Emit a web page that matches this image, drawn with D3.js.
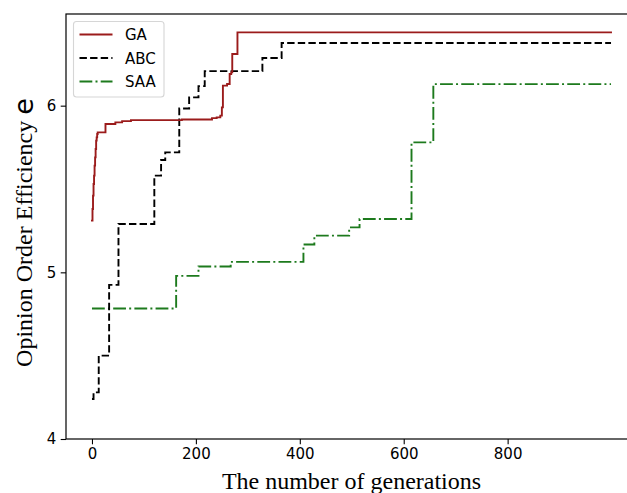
<!DOCTYPE html>
<html>
<head>
<meta charset="utf-8">
<script src="https://cdn.jsdelivr.net/npm/d3@7"></script>
<style>
  html, body { margin: 0; padding: 0; background: #fff; }
  svg { display: block; }
</style>
</head>
<body>
<svg id="chart" width="627" height="493"></svg>
<script>
// Best-so-far opinion order efficiency per generation (change points; held until the next one)
const lastGeneration = 999;

const gaGenerations = [0, 1, 2, 3, 4, 5, 6, 7, 8, 9, 10, 11, 26, 45, 58, 75, 173, 231, 240, 247, 250, 252, 260, 265, 268, 270, 280];
const gaValues      = [5.31, 5.38, 5.46, 5.53, 5.58, 5.64, 5.69, 5.74, 5.79, 5.81, 5.83, 5.84, 5.89, 5.90, 5.907, 5.913, 5.917, 5.925, 5.93, 5.94, 5.99, 6.12, 6.13, 6.19, 6.20, 6.31, 6.44];

const abcGenerations = [0, 3, 13, 33, 51, 120, 133, 141, 168, 187, 205, 217, 328, 365];
const abcValues      = [4.24, 4.28, 4.50, 4.925, 5.29, 5.58, 5.674, 5.72, 5.983, 6.05, 6.117, 6.207, 6.286, 6.376];

const saaGenerations = [0, 162, 205, 267, 407, 428, 495, 515, 615, 657];
const saaValues      = [4.783, 4.979, 5.035, 5.063, 5.167, 5.22, 5.27, 5.32, 5.78, 6.129];

const seriesNames = ["GA", "ABC", "SAA"];
const xTickValues = [0, 200, 400, 600, 800];
const yTickValues = [4, 5, 6];

const xLabel = "The number of generations";
const yLabel = "Opinion Order Efficiency ";
const yLabelSymbol = "e";

// ---- layout ----
const svg = d3.select("#chart");
const plot = { left: 66, top: 14, right: 637, bottom: 439 };

const x = d3.scaleLinear().domain([-50, 1049]).range([plot.left, plot.right]);
const y = d3.scaleLinear().domain([4, 6.55]).range([plot.bottom, plot.top]);

const styles = {
  GA:  { color: "#9b1b1b", dash: null },
  ABC: { color: "#000000", dash: "7.4,3.2" },
  SAA: { color: "#1d7a1d", dash: "12.8,3.2,2,3.2" }
};

function toPoints(gens, vals) {
  const pts = gens.map((g, i) => [g, vals[i]]);
  pts.push([lastGeneration, vals[vals.length - 1]]);
  return pts;
}

const seriesData = {
  GA: toPoints(gaGenerations, gaValues),
  ABC: toPoints(abcGenerations, abcValues),
  SAA: toPoints(saaGenerations, saaValues)
};

const line = d3.line()
  .x(d => x(d[0]))
  .y(d => y(d[1]))
  .curve(d3.curveStepAfter);

// clip lines to the axes box
svg.append("defs").append("clipPath").attr("id", "plotClip")
  .append("rect")
  .attr("x", plot.left).attr("y", plot.top)
  .attr("width", plot.right - plot.left).attr("height", plot.bottom - plot.top);

const lines = svg.append("g").attr("clip-path", "url(#plotClip)");
// draw SAA first so GA stays on top
["SAA", "ABC", "GA"].forEach(name => {
  lines.append("path")
    .datum(seriesData[name])
    .attr("d", line)
    .attr("fill", "none")
    .attr("stroke", styles[name].color)
    .attr("stroke-width", 1.9)
    .attr("stroke-dasharray", styles[name].dash)
    .attr("stroke-linejoin", "miter")
    .attr("stroke-linecap", styles[name].dash ? "butt" : "square");
});

// ---- axes ----
const tickFont = "DejaVu Sans, sans-serif";

const xAxis = d3.axisBottom(x).tickValues(xTickValues).tickSize(5.3).tickPadding(4.5).tickFormat(d3.format("d"));
const yAxis = d3.axisLeft(y).tickValues(yTickValues).tickSize(5.3).tickPadding(4.5).tickFormat(d3.format("d"));

const gx = svg.append("g").attr("transform", `translate(0,${plot.bottom})`).call(xAxis);
const gy = svg.append("g").attr("transform", `translate(${plot.left},0)`).call(yAxis);

[gx, gy].forEach(g => {
  g.select(".domain").remove();
  g.selectAll(".tick line").attr("stroke", "#000").attr("stroke-width", 1.1);
  g.selectAll(".tick text")
    .attr("fill", "#000")
    .style("font-family", tickFont)
    .style("font-size", "15px");
});

// spines
svg.append("rect")
  .attr("x", plot.left).attr("y", plot.top)
  .attr("width", plot.right - plot.left).attr("height", plot.bottom - plot.top)
  .attr("fill", "none")
  .attr("stroke", "#000")
  .attr("stroke-width", 1.2);

// axis labels
svg.append("text")
  .attr("x", (plot.left + plot.right) / 2)
  .attr("y", 489)
  .attr("text-anchor", "middle")
  .style("font-family", "Liberation Serif, Times New Roman, serif")
  .style("font-size", "24px")
  .attr("fill", "#000")
  .text(xLabel);

const yl = svg.append("text")
  .attr("transform", `translate(31.5,232.5) rotate(-90)`)
  .attr("text-anchor", "middle")
  .style("font-family", "Liberation Serif, Times New Roman, serif")
  .style("font-size", "24px")
  .attr("fill", "#000");
yl.append("tspan").text(yLabel);
yl.append("tspan")
  .attr("dy", 1.5)
  .style("font-family", "DejaVu Sans, sans-serif")
  .style("font-size", "27px")
  .text(yLabelSymbol);

// ---- legend ----
const legend = svg.append("g");
legend.append("rect")
  .attr("x", 73.5).attr("y", 21.5)
  .attr("width", 90.5).attr("height", 75.5)
  .attr("rx", 3).attr("ry", 3)
  .attr("fill", "#fff").attr("fill-opacity", 0.8)
  .attr("stroke", "#d6d6d6").attr("stroke-width", 1.1);

const legendRowY = [34.5, 58, 81.5];
seriesNames.forEach((name, i) => {
  legend.append("line")
    .attr("x1", 79.5).attr("x2", 112.5)
    .attr("y1", legendRowY[i]).attr("y2", legendRowY[i])
    .attr("stroke", styles[name].color)
    .attr("stroke-width", 1.9)
    .attr("stroke-dasharray", styles[name].dash);
  legend.append("text")
    .attr("x", 125)
    .attr("y", legendRowY[i] + 5.5)
    .style("font-family", tickFont)
    .style("font-size", "15px")
    .attr("fill", "#000")
    .text(name);
});
</script>
</body>
</html>
